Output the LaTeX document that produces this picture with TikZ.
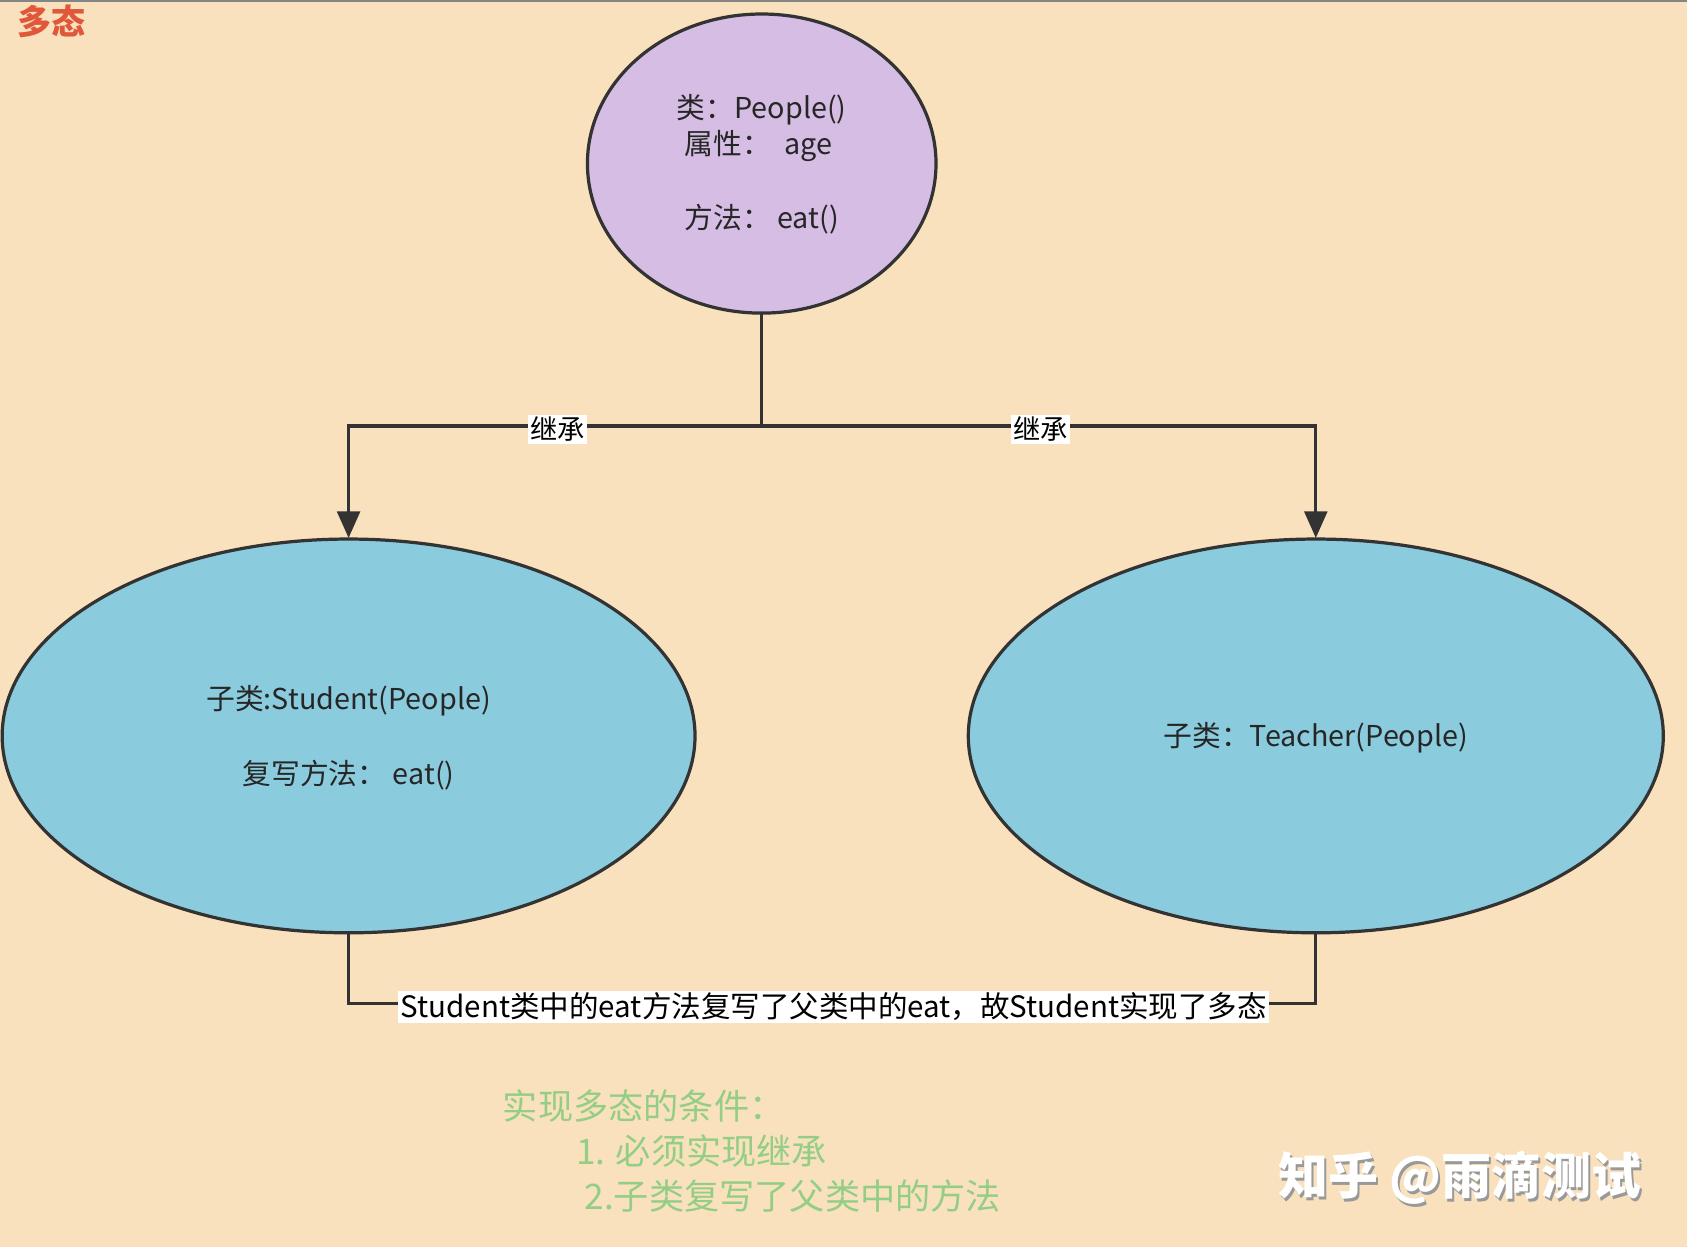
\documentclass[tikz,border=0pt]{standalone}
\usepackage{fontspec}
\setmainfont{Noto Sans CJK SC}
\usetikzlibrary{arrows.meta}
\definecolor{bg}{HTML}{F8E1BC}
\definecolor{lav}{HTML}{D5BDE3}
\definecolor{sky}{HTML}{8ACBDD}
\definecolor{edge}{HTML}{333333}
\definecolor{grn}{HTML}{94CE86}
\definecolor{ttl}{HTML}{E0573A}
\tikzset{
 ell/.style={draw=edge,line width=0.85pt},
 conn/.style={draw=edge,line width=0.85pt},
 arr/.style={conn,-{Triangle[length=7pt,width=6pt]}},
 txt/.style={font=\fontsize{7.6}{9}\selectfont,text=black!85,align=center},
 lbl/.style={font=\fontsize{7.2}{8}\selectfont,fill=white,inner sep=0.6pt},
 note/.style={font=\fontsize{9.3}{11}\selectfont,text=grn,anchor=west}
}
\begin{document}
\begin{tikzpicture}[x=0.01cm,y=-0.01cm]
\useasboundingbox (0,0) rectangle (1568,1159);
\fill[bg] (0,0) rectangle (1568,1159);
\draw[edge!60,line width=0.4pt] (0,1) -- (1568,1);
\node[font=\fontsize{9}{11}\selectfont\bfseries,text=ttl] (title) at (48,20) {多态};
\draw[ell,fill=lav] (708,152) ellipse [x radius=162,y radius=139];
\draw[ell,fill=sky] (324,684) ellipse [x radius=322,y radius=183];
\draw[ell,fill=sky] (1223,684) ellipse [x radius=323,y radius=183];
\coordinate (ptop) at (708,291);
\coordinate (pl) at (324,500);
\coordinate (pr) at (1223,500);
\coordinate (sb) at (324,867);
\coordinate (tb) at (1223,867);
\node[txt] (t1) at (708,102) {类：People()};
\node[txt] (t2) at (705,136) {属性：\ \ age};
\node[txt] (t3) at (708,204) {方法：\ eat()};
\node[txt] (s1) at (324,651) {子类:Student(People)};
\node[txt] (s2) at (324,720) {复写方法：\ eat()};
\node[txt] (r1) at (1223,686) {子类：Teacher(People)};
\coordinate (mid) at (708,396);
\draw[conn] (ptop) -- (mid);
\draw[arr] (mid) -- (324,396) -- (pl);
\draw[arr] (mid) -- (1223,396) -- (pr);
\node[lbl] (l1) at (518,399) {继承};
\node[lbl] (l2) at (967,399) {继承};
\draw[conn] (sb) -- (324,933) -- (1223,933) -- (tb);
\node[lbl,font=\fontsize{7.8}{9}\selectfont] (l3) at (775,936) {Student类中的eat方法复写了父类中的eat，故Student实现了多态};
\node[note] (n1) at (455,1028) {实现多态的条件：};
\node[note] (n2) at (523,1070) {1. 必须实现继承};
\node[note] (n3) at (531,1112) {2.子类复写了父类中的方法};
\node[font=\fontsize{13.2}{15}\selectfont\bfseries,text=black!40] at (1359,1097) {知乎 @雨滴测试};
\node[font=\fontsize{13.2}{15}\selectfont\bfseries,text=white] (wm) at (1357,1095) {知乎 @雨滴测试};
\end{tikzpicture}
\end{document}
